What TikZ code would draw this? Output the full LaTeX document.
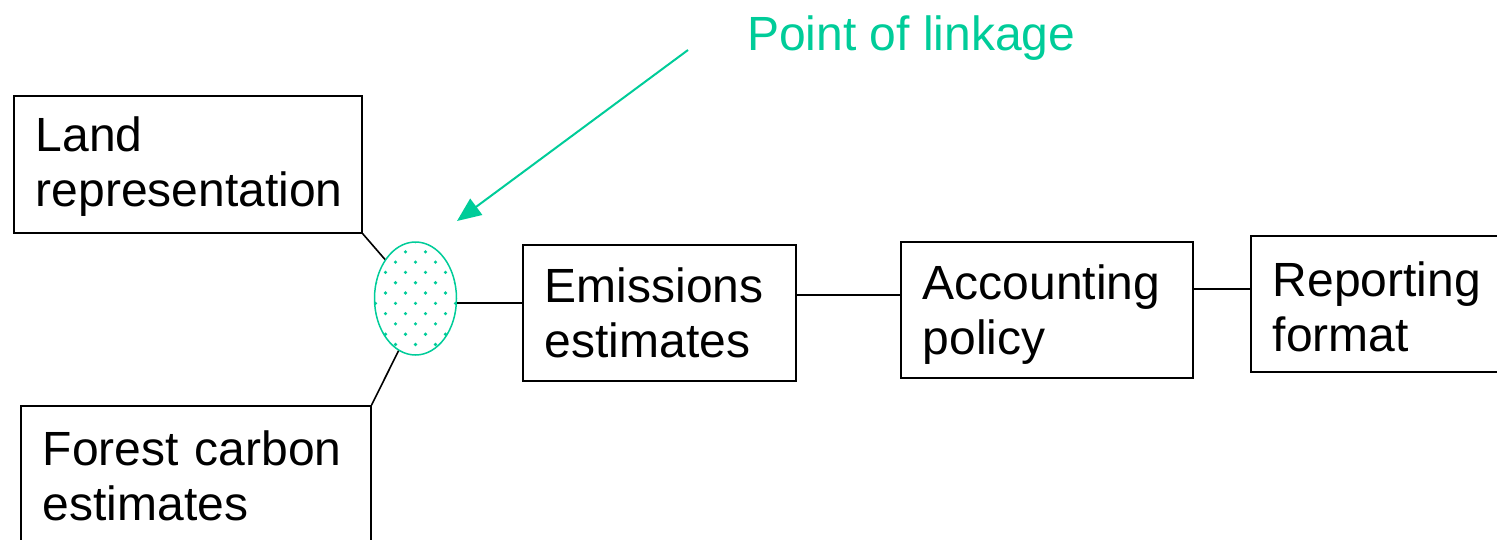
\documentclass[tikz,border=0pt]{standalone}
\usepackage{fontspec}
\setmainfont{Liberation Sans}
\usetikzlibrary{shapes.geometric,arrows.meta,calc}
\definecolor{linkgreen}{RGB}{0,204,153}
\begin{document}
\begin{tikzpicture}[x=1pt,y=-1pt,
  every node/.style={font=\fontsize{48}{55}\selectfont},
  stagebox/.style={draw=black,line width=1.6pt,anchor=north west,align=left,
    inner xsep=22pt,inner ysep=0pt,minimum height=#1},
  link/.style={draw=black,line width=1.6pt},
  pointer/.style={draw=linkgreen,line width=2pt,-{Triangle[length=24pt,width=20pt]}}]
\useasboundingbox (0,0) rectangle (1497,539);

% stages of the chain
\node[stagebox=137pt,text width=304pt] (land) at (13,95) {\rule{0pt}{40pt}Land\\representation};
\node[stagebox=140pt,text width=306pt] (forest) at (20,405) {Forest carbon\\estimates};
\node[stagebox=136pt,text width=229pt] (emis) at (522,244) {Emissions\\estimates};
\node[stagebox=136pt,text width=248pt] (acc) at (900,241) {\rule{0pt}{44pt}Accounting\\policy};
\node[stagebox=136pt,text width=216pt] (rep) at (1250,235) {\rule{0pt}{40pt}Reporting\\format};

% dotted linkage ellipse
\node[ellipse,draw=linkgreen,line width=1.5pt,minimum width=82pt,minimum height=113pt,inner sep=0pt,
  path picture={
    \foreach \i in {-6,...,6}{
      \foreach \j in {-3,...,3}{
        \fill[linkgreen] ($(path picture bounding box.center)+({\j*20+10*mod(\i+10,2)},{\i*10.3+4.8})$) circle (1.8);
      }
    }
  }] (ell) at (415.5,298.5) {};

% connectors
\draw[link] (land.south east) -- (ell.128);
\draw[link] (forest.north east) -- (ell.252);
\draw[link] ([yshift=-4.5pt]ell.east) coordinate (e1) -- (e1 -| emis.west);
\draw[link] ([yshift=18pt]emis.east) coordinate (e2) -- (e2 -| acc.west);
\draw[link] ([yshift=21pt]acc.east) coordinate (e3) -- (e3 -| rep.west);

% label and pointer
\node[anchor=base west,inner sep=0pt,text=linkgreen] (label) at (747,50) {Point of linkage};
\coordinate (ptstart) at (688,50);
\coordinate (pttip) at (457,221);
\draw[pointer] (ptstart) -- (pttip);
\end{tikzpicture}
\end{document}
